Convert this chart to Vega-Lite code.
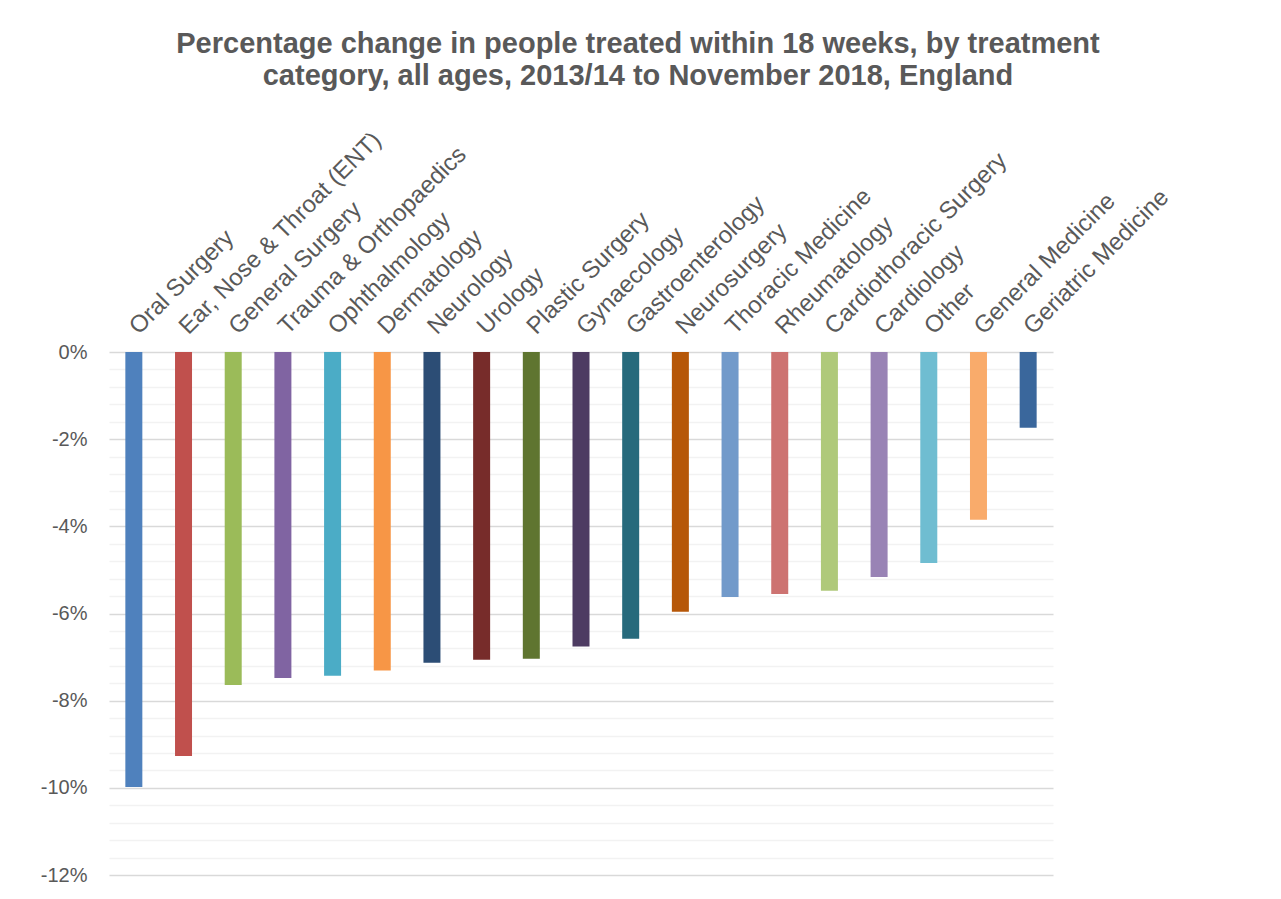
{
  "$schema": "https://vega.github.io/schema/vega-lite/v6.json",
  "width": 944,
  "height": 523,
  "autosize": {"type": "none"},
  "padding": {"left": 109, "top": 352, "right": 228, "bottom": 24},
  "background": "white",
  "title": {
    "text": ["Percentage change in people treated within 18 weeks, by treatment", "category, all ages, 2013/14 to November 2018, England"],
    "fontSize": 29,
    "fontWeight": "bold",
    "color": "#595959",
    "font": "Liberation Sans",
    "lineHeight": 32,
    "anchor": "middle",
    "frame": "group",
    "dx": 57,
    "offset": 36
  },
  "data": {
    "values": [
      {"category": "Oral Surgery", "change": -9.98},
      {"category": "Ear, Nose & Throat (ENT)", "change": -9.27},
      {"category": "General Surgery", "change": -7.64},
      {"category": "Trauma & Orthopaedics", "change": -7.48},
      {"category": "Ophthalmology", "change": -7.43},
      {"category": "Dermatology", "change": -7.31},
      {"category": "Neurology", "change": -7.13},
      {"category": "Urology", "change": -7.06},
      {"category": "Plastic Surgery", "change": -7.04},
      {"category": "Gynaecology", "change": -6.76},
      {"category": "Gastroenterology", "change": -6.58},
      {"category": "Neurosurgery", "change": -5.96},
      {"category": "Thoracic Medicine", "change": -5.62},
      {"category": "Rheumatology", "change": -5.55},
      {"category": "Cardiothoracic Surgery", "change": -5.48},
      {"category": "Cardiology", "change": -5.16},
      {"category": "Other", "change": -4.84},
      {"category": "General Medicine", "change": -3.85},
      {"category": "Geriatric Medicine", "change": -1.74}
    ]
  },
  "mark": {"type": "bar", "width": 17},
  "encoding": {
    "x": {
      "field": "category",
      "type": "nominal",
      "sort": null,
      "scale": {"paddingInner": 0.658, "paddingOuter": 0.329},
      "axis": {
        "orient": "top",
        "title": null,
        "domain": false,
        "ticks": false,
        "labelAngle": -45,
        "labelAlign": "left",
        "labelBaseline": "middle",
        "labelPadding": 22,
        "labelFontSize": 24,
        "labelFont": "Liberation Sans",
        "labelColor": "#595959",
        "labelLimit": 400,
        "grid": false
      }
    },
    "y": {
      "field": "change",
      "type": "quantitative",
      "scale": {"domain": [-12, 0], "nice": false},
      "axis": {
        "title": null,
        "domain": false,
        "ticks": false,
        "values": [0, -0.4, -0.8, -1.2, -1.6, -2, -2.4, -2.8, -3.2, -3.6, -4, -4.4, -4.8, -5.2, -5.6, -6, -6.4, -6.8, -7.2, -7.6, -8, -8.4, -8.8, -9.2, -9.6, -10, -10.4, -10.8, -11.2, -11.6, -12],
        "labelExpr": "abs(datum.value % 2) < 0.001 ? datum.value + '%' : ''",
        "labelFontSize": 20,
        "labelFont": "Liberation Sans",
        "labelColor": "#595959",
        "labelPadding": 22,
        "grid": true,
        "gridWidth": 1.5,
        "gridColor": {"condition": {"test": "abs(datum.value % 2) < 0.001", "value": "#d9d9d9"}, "value": "#f2f2f2"}
      }
    },
    "color": {
      "field": "category",
      "type": "nominal",
      "sort": null,
      "legend": null,
      "scale": {
        "domain": ["Oral Surgery", "Ear, Nose & Throat (ENT)", "General Surgery", "Trauma & Orthopaedics", "Ophthalmology", "Dermatology", "Neurology", "Urology", "Plastic Surgery", "Gynaecology", "Gastroenterology", "Neurosurgery", "Thoracic Medicine", "Rheumatology", "Cardiothoracic Surgery", "Cardiology", "Other", "General Medicine", "Geriatric Medicine"],
        "range": ["#4F81BD", "#C0504D", "#9BBB59", "#8064A2", "#4BACC6", "#F79646", "#2C4D75", "#772C2A", "#5F7530", "#4D3B62", "#276A7C", "#B65708", "#729ACA", "#CD7371", "#AFC97A", "#9983B5", "#6FBDD1", "#F9AB6B", "#3A679C"]
      }
    }
  },
  "config": {"view": {"stroke": null}}
}
